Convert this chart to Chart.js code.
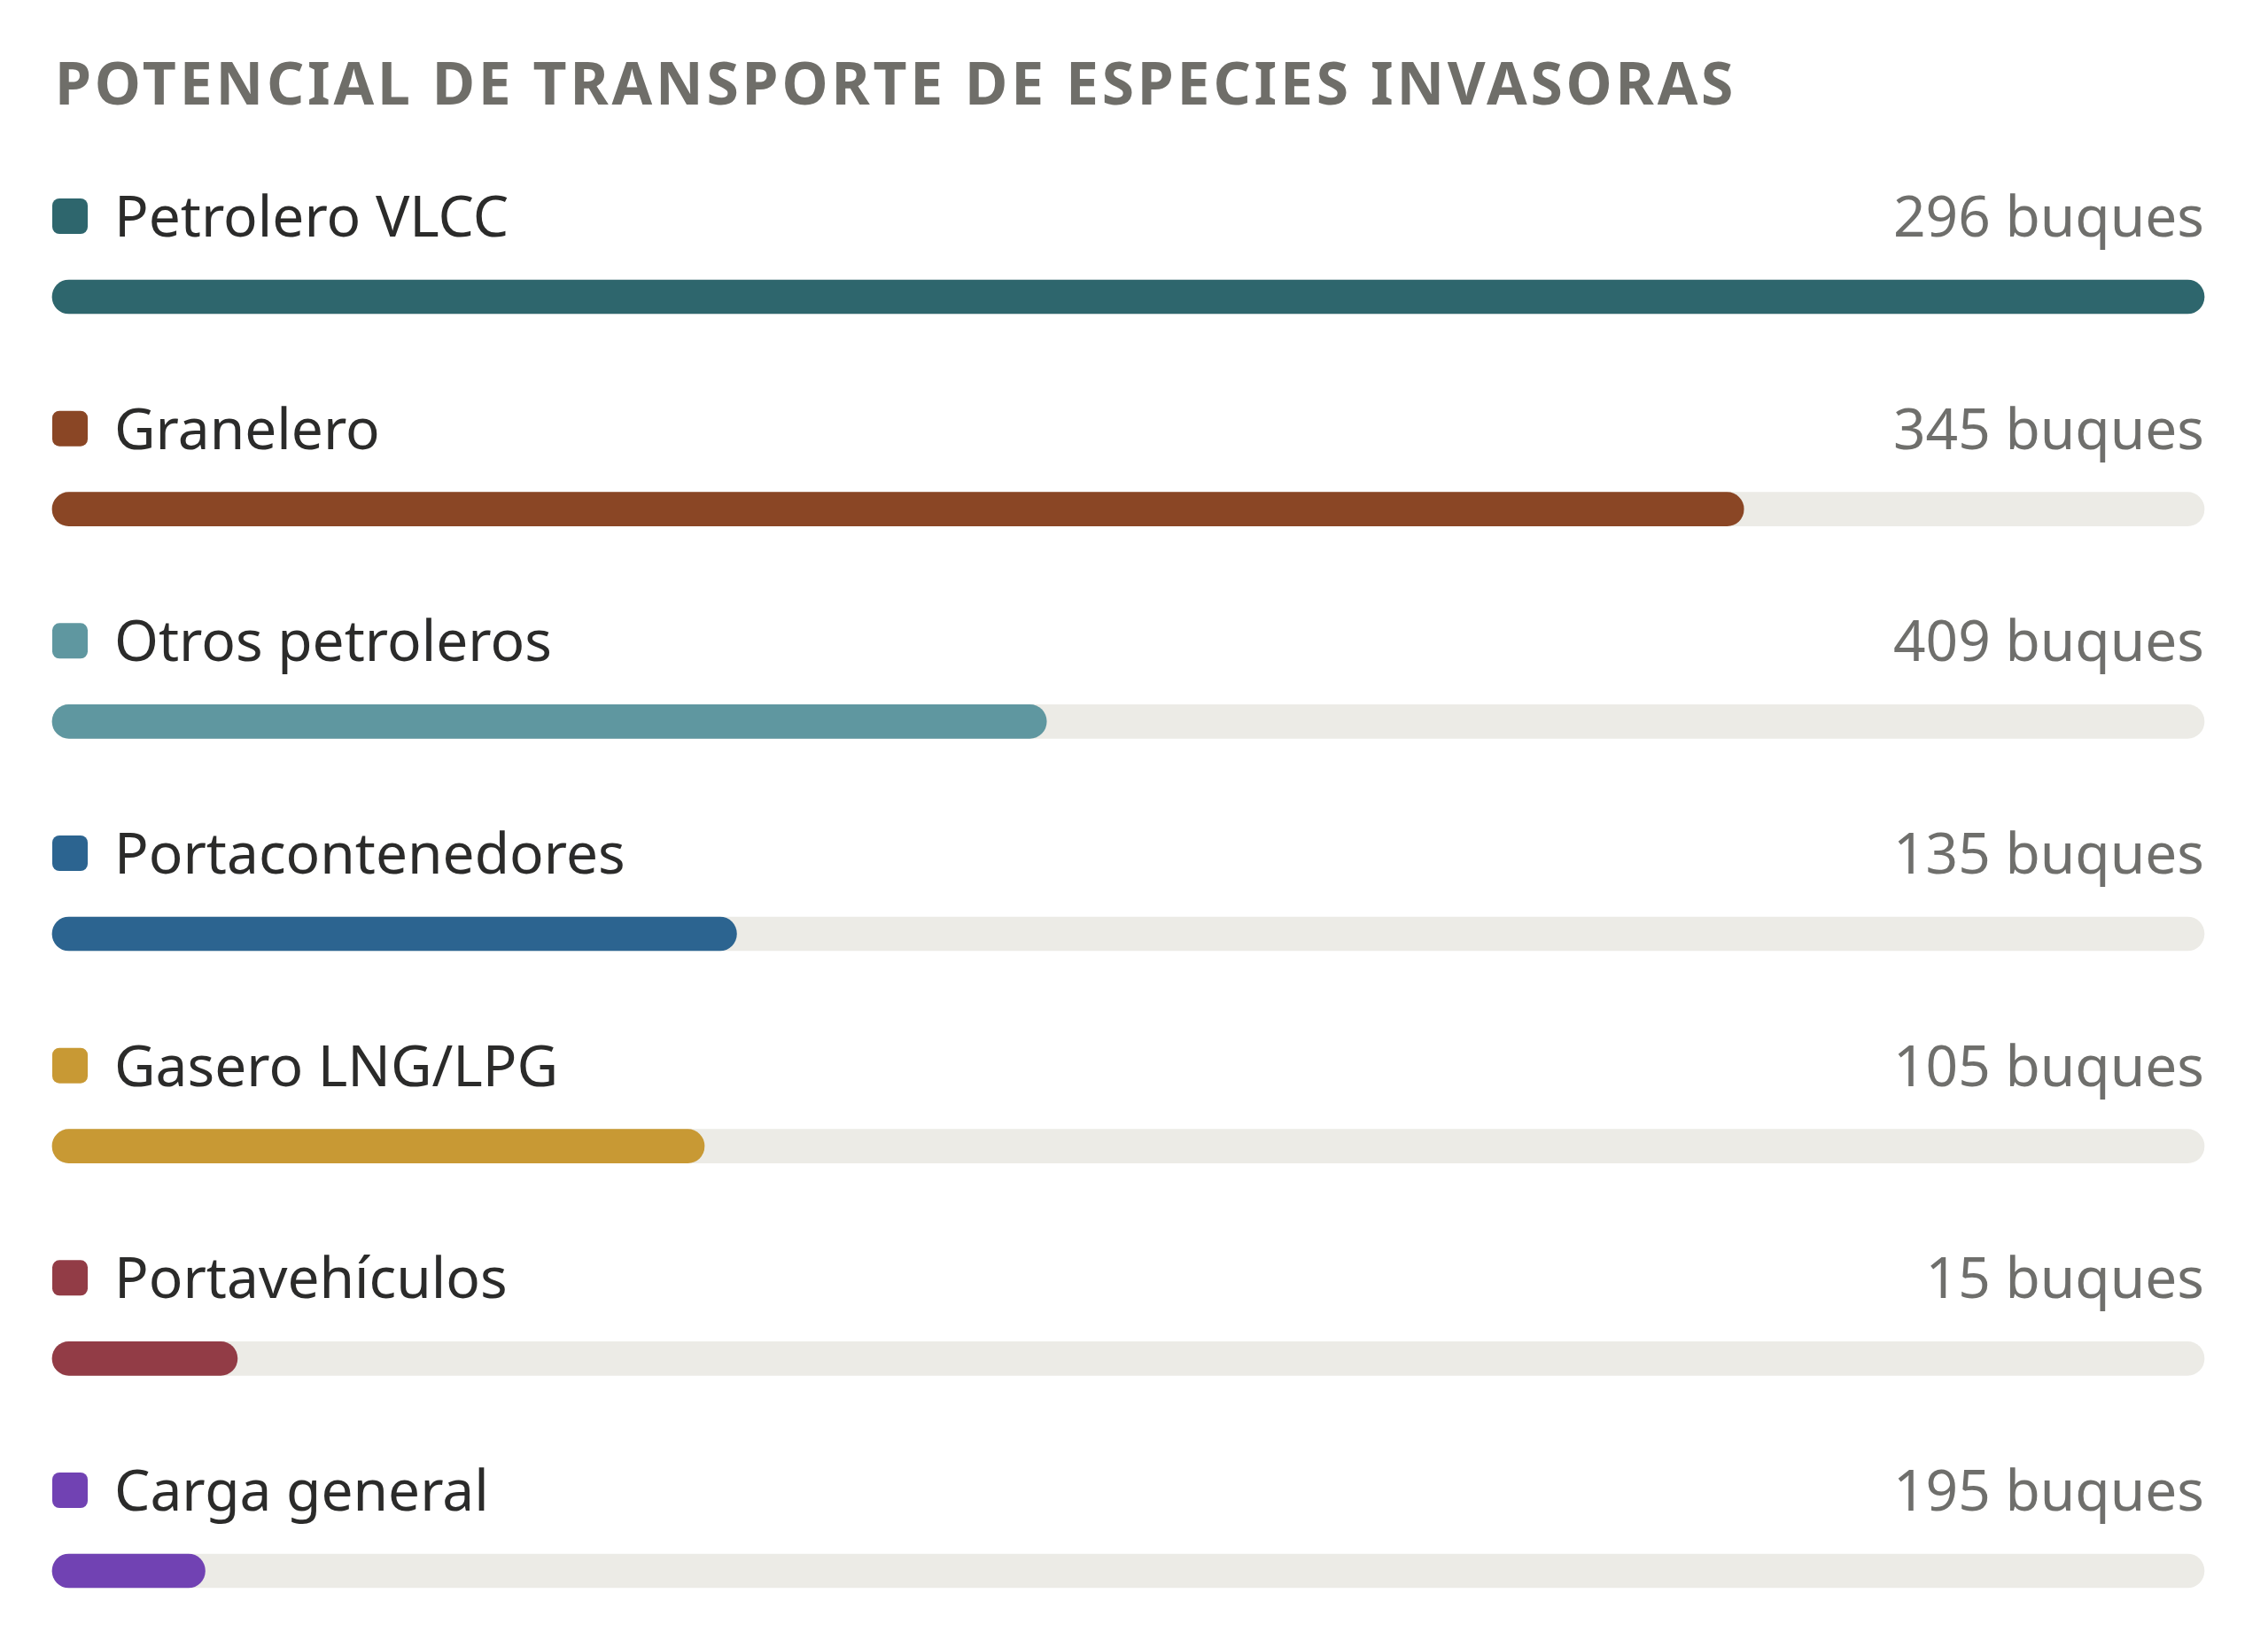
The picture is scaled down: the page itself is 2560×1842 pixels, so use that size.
<!DOCTYPE html>
<html lang="es">
<head>
<meta charset="utf-8">
<title>Potencial de transporte de especies invasoras</title>
<script src="https://cdn.jsdelivr.net/npm/chart.js@4.4.1/dist/chart.umd.min.js"></script>
<style>
  html, body { margin: 0; padding: 0; background: #ffffff; }
  #wrap { position: relative; width: 2560px; height: 1842px; }
</style>
</head>
<body>
<div id="wrap"><canvas id="invasiveChart"></canvas></div>
<script>
// -------------------------
// Data
// -------------------------
const chartTitle = "POTENCIAL DE TRANSPORTE DE ESPECIES INVASORAS";
const shipTypes = [
  "Petrolero VLCC",
  "Granelero",
  "Otros petroleros",
  "Portacontenedores",
  "Gasero LNG/LPG",
  "Portavehículos",
  "Carga general",
];
const shipCounts = [296, 345, 409, 135, 105, 15, 195];
const potentialPct = [100, 78.6, 46.2, 31.8, 30.3, 8.6, 7.1];
const trackValues = [100, 100, 100, 100, 100, 100, 100];
const barColors = ["#2e666d", "#8a4625", "#5f97a0", "#2c6490", "#c89934", "#923c46", "#7142b3"];

// -------------------------
// Labels above each bar
// -------------------------
const rowLabels = {
  id: "rowLabels",
  afterDatasetsDraw(chart) {
    const { ctx, chartArea } = chart;
    const bars = chart.getDatasetMeta(1).data;

    ctx.save();
    // title
    ctx.font = '700 66px "Noto Sans"';
    ctx.letterSpacing = "3.8px";
    ctx.fillStyle = "#6f6e69";
    ctx.textAlign = "left";
    ctx.textBaseline = "alphabetic";
    ctx.fillText(chartTitle, 62, 118);
    ctx.letterSpacing = "0px";

    bars.forEach((bar, i) => {
      const y = bar.y;
      ctx.fillStyle = barColors[i];
      ctx.beginPath();
      ctx.roundRect(chartArea.left, y - 111, 40, 40, 8);
      ctx.fill();

      ctx.font = '400 64px "Noto Sans"';
      ctx.textAlign = "left";
      ctx.fillStyle = "#2b2b2a";
      ctx.fillText(shipTypes[i], chartArea.left + 70, y - 68);

      ctx.textAlign = "right";
      ctx.fillStyle = "#6f6f6c";
      ctx.fillText(`${shipCounts[i]} buques`, chartArea.right, y - 68);
    });
    ctx.restore();
  },
};

// -------------------------
// Chart
// -------------------------
const barStyle = {
  grouped: false,
  barThickness: 38,
  borderRadius: 19,
  borderSkipped: false,
  clip: false,
};

new Chart(document.getElementById("invasiveChart"), {
  type: "bar",
  data: {
    labels: shipTypes,
    datasets: [
      { label: "Potencial", data: potentialPct, backgroundColor: barColors, ...barStyle },
      { label: "Base", data: trackValues, backgroundColor: "#ecebe6", ...barStyle },
    ],
  },
  options: {
    indexAxis: "y",
    responsive: true,
    maintainAspectRatio: false,
    animation: false,
    devicePixelRatio: 1,
    layout: { padding: { left: 59, right: 72, top: 335, bottom: 69 } },
    plugins: {
      legend: { display: false },
      tooltip: { enabled: false },
    },
    scales: {
      x: { min: 0, max: 100, display: false },
      y: { type: "category", offset: false, display: false },
    },
  },
  plugins: [rowLabels],
});
</script>
</body>
</html>
